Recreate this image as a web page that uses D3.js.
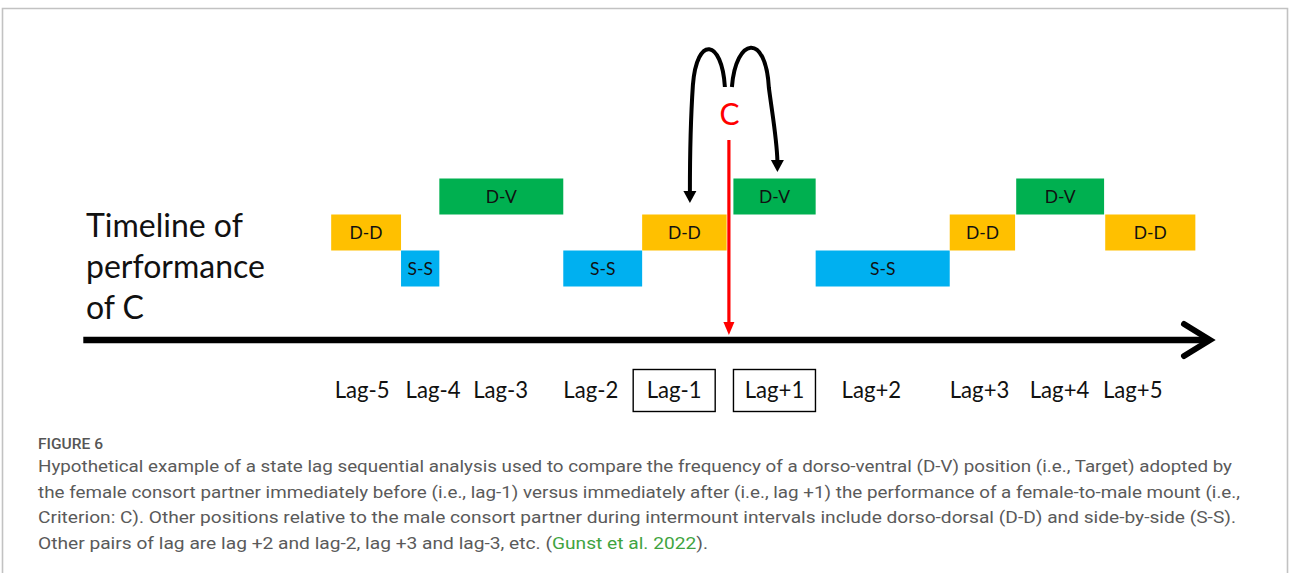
<!DOCTYPE html>
<html>
<head>
<meta charset="utf-8">
<script src="https://cdn.jsdelivr.net/npm/d3@7"></script>
<style>
  html, body { margin: 0; padding: 0; background: #ffffff; }
  svg { display: block; }
</style>
</head>
<body>
<svg id="chart" width="1290" height="573"></svg>
<script>
// ---------------- DATA ----------------
const states = ["D-V", "D-D", "S-S"];
const blockStates = ["D-D", "S-S", "D-V", "S-S", "D-D", "D-V", "S-S", "D-D", "D-V", "D-D"];
const blockStart  = [22.0, 28.2, 31.6, 42.6, 49.6, 57.7, 65.0, 76.9, 82.8, 90.7];
const blockEnd    = [28.2, 31.6, 42.6, 49.6, 57.1, 65.0, 76.9, 82.7, 90.6, 98.7];
const criterionTime = 57.3;
const criterionLabel = "C";
const lagLabels = ["Lag-5", "Lag-4", "Lag-3", "Lag-2", "Lag-1", "Lag+1", "Lag+2", "Lag+3", "Lag+4", "Lag+5"];
const lagPos    = [24.7, 31.0, 37.0, 45.0, 52.4, 61.3, 69.9, 79.5, 86.6, 93.1];
const boxedLags = ["Lag-1", "Lag+1"];
const timelineTitle = ["Timeline of", "performance", "of C"];
const figureLabel = "FIGURE 6";
const captionLines = [
  ["Hypothetical example of a state lag sequential analysis used to compare the frequency of a dorso-ventral (D-V) position (i.e., Target) adopted by"],
  ["the female consort partner immediately before (i.e., lag-1) versus immediately after (i.e., lag +1) the performance of a female-to-male mount (i.e.,"],
  ["Criterion: C). Other positions relative to the male consort partner during intermount intervals include dorso-dorsal (D-D) and side-by-side (S-S)."],
  ["Other pairs of lag are lag +2 and lag-2, lag +3 and lag-3, etc. (", "Gunst et al. 2022", ")."]
];
const stateColors = { "D-D": "#FFC000", "S-S": "#00B0F0", "D-V": "#00B050" };

// ---------------- SETUP ----------------
const svg = d3.select("#chart");
const diagFont = "Lato, 'Open Sans', sans-serif";
const capFont = "Roboto, 'Noto Sans', sans-serif";

function fitWidth(sel, target) {
  const len = sel.node().getComputedTextLength();
  const fs = parseFloat(sel.attr("font-size"));
  const nfs = fs * target / len;
  sel.attr("font-size", nfs);
  return nfs;
}

// frame
svg.append("path")
  .attr("d", "M2.5,573 L2.5,8.5 L1287.5,8.5 L1287.5,573")
  .attr("fill", "none").attr("stroke", "#c2c2c2").attr("stroke-width", 1.6);

const x = d3.scaleLinear().domain([0, 100]).range([83.3, 1210]);
const y = d3.scaleBand().domain(states).range([178.5, 286.5]).padding(0);

// ---------------- BLOCKS ----------------
const blocks = blockStates.map((s, i) => ({ state: s, start: blockStart[i], end: blockEnd[i] }));
const g = svg.append("g");
g.selectAll("rect.block").data(blocks).join("rect")
  .attr("class", "block")
  .attr("x", d => x(d.start))
  .attr("y", d => y(d.state))
  .attr("width", d => x(d.end) - x(d.start))
  .attr("height", y.bandwidth())
  .attr("fill", d => stateColors[d.state]);

// block labels
const probe = g.append("text").attr("font-family", diagFont).attr("font-size", 20).text("D-D");
const blockFs = fitWidth(probe, 33);
probe.remove();
g.selectAll("text.blabel").data(blocks).join("text")
  .attr("class", "blabel")
  .attr("x", d => (x(d.start) + x(d.end)) / 2)
  .attr("y", d => y(d.state) + y.bandwidth() / 2 + blockFs * 0.36)
  .attr("text-anchor", "middle")
  .attr("font-family", diagFont)
  .attr("font-size", blockFs)
  .attr("fill", "#111")
  .text(d => d.state);

// ---------------- TIMELINE AXIS ----------------
const axisY = 340;
svg.append("line")
  .attr("x1", x(0)).attr("x2", x(100) - 4)
  .attr("y1", axisY).attr("y2", axisY)
  .attr("stroke", "#000").attr("stroke-width", 6.5);
svg.append("path")
  .attr("d", `M${x(100) - 26},${axisY - 16} L${x(100)},${axisY} L${x(100) - 26},${axisY + 16}`)
  .attr("fill", "none").attr("stroke", "#000").attr("stroke-width", 6)
  .attr("stroke-linecap", "round").attr("stroke-linejoin", "miter");

// Timeline title
const tt = svg.append("g");
const tProbe = tt.append("text").attr("font-family", diagFont).attr("font-size", 30).text(timelineTitle[1]);
const titleFs = fitWidth(tProbe, 179);
tProbe.remove();
tt.selectAll("text").data(timelineTitle).join("text")
  .attr("x", 86)
  .attr("y", (d, i) => 237 + i * 41)
  .attr("font-family", diagFont)
  .attr("font-size", titleFs)
  .attr("fill", "#111")
  .text(d => d);

// ---------------- LAG LABELS (axis) ----------------
const lagAxis = d3.axisBottom(x)
  .tickValues(lagPos)
  .tickFormat((d, i) => lagLabels[i])
  .tickSize(0);
const ag = svg.append("g").attr("transform", "translate(0,0)").call(lagAxis);
ag.select(".domain").remove();
const lProbe = svg.append("text").attr("font-family", diagFont).attr("font-size", 20).text("Lag-4");
const lagFs = fitWidth(lProbe, 55);
lProbe.remove();
ag.selectAll(".tick text")
  .attr("y", 398).attr("dy", null)
  .attr("font-family", diagFont)
  .attr("font-size", lagFs)
  .attr("fill", "#111");
ag.selectAll(".tick")
  .filter((d, i) => boxedLags.includes(lagLabels[i]))
  .insert("rect", "text")
  .attr("x", -41).attr("y", 369.5)
  .attr("width", 82).attr("height", 42)
  .attr("fill", "none").attr("stroke", "#000").attr("stroke-width", 1.4);

// ---------------- CRITERION ----------------
const cx = x(criterionTime);
svg.append("line")
  .attr("x1", cx).attr("x2", cx).attr("y1", 140).attr("y2", 324)
  .attr("stroke", "#FF0000").attr("stroke-width", 3.2);
svg.append("path")
  .attr("d", `M${cx - 5.5},${322} L${cx + 5.5},${322} L${cx},${335} Z`)
  .attr("fill", "#FF0000");
svg.append("text")
  .attr("x", cx + 0.5).attr("y", 125)
  .attr("text-anchor", "middle")
  .attr("font-family", diagFont)
  .attr("font-size", 30)
  .attr("fill", "#FF0000")
  .text(criterionLabel);

// arcs from C to lag-1 and lag+1
const arcs = [
  { d: `M${cx - 4},87 C${cx - 7},39 ${cx - 32},35 ${cx - 36},85 C${cx - 38},115 ${cx - 39},150 ${cx - 39},192`, tipX: cx - 39, tipY: 203 },
  { d: `M${cx + 3},87 C${cx + 7},37 ${cx + 37},32 ${cx + 40},88 C${cx + 44},118 ${cx + 48},140 ${cx + 48.5},161`, tipX: cx + 48.5, tipY: 172 }
];
svg.selectAll("path.arc").data(arcs).join("path")
  .attr("class", "arc")
  .attr("d", d => d.d)
  .attr("fill", "none").attr("stroke", "#000").attr("stroke-width", 4)
  .attr("stroke-linecap", "butt");
svg.selectAll("path.arrowhead").data(arcs).join("path")
  .attr("class", "arrowhead")
  .attr("d", d => `M${d.tipX - 6.5},${d.tipY - 12} L${d.tipX + 6.5},${d.tipY - 12} L${d.tipX},${d.tipY} Z`)
  .attr("fill", "#000");

// ---------------- CAPTION ----------------
svg.append("text")
  .attr("x", 38).attr("y", 449)
  .attr("font-family", capFont)
  .attr("font-size", 14.5)
  .attr("font-weight", 500)
  .attr("fill", "#555")
  .attr("textLength", 65).attr("lengthAdjust", "spacingAndGlyphs")
  .text(figureLabel);

const capTargets = [1194, 1202, 1198, 670];
captionLines.forEach((parts, i) => {
  const t = svg.append("text")
    .attr("x", 38).attr("y", 472 + i * 25.5)
    .attr("font-family", capFont)
    .attr("font-size", 16.5)
    .attr("fill", "#5a5a5a");
  parts.forEach((p, j) => {
    t.append("tspan").attr("fill", (parts.length === 3 && j === 1) ? "#3fa43f" : "#5a5a5a").text(p);
  });
  t.attr("textLength", capTargets[i]).attr("lengthAdjust", "spacingAndGlyphs");
});
</script>
</body>
</html>
